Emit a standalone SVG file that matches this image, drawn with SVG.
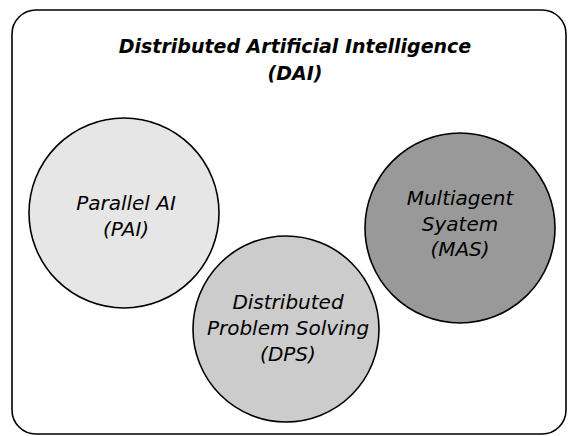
<svg xmlns="http://www.w3.org/2000/svg" width="571" height="436" viewBox="0 0 571 436">
<style>
.frame{fill:#fff;stroke:#000;stroke-width:1.6}
.c{stroke:#000;stroke-width:1.6}
.t{font-family:"Comic Sans MS","DejaVu Sans",sans-serif;font-style:italic;font-size:20px;fill:#000;text-anchor:middle}
.title{font-weight:bold;font-size:19px}
</style>
<rect width="571" height="436" fill="#fff"/>
<g id="dai">
<rect class="frame" x="12" y="10" width="554" height="424" rx="24" ry="24"/>
<text class="t title" x="295" y="53">Distributed Artificial Intelligence</text>
<text class="t title" x="295" y="80">(DAI)</text>
</g>
<g id="pai">
<circle class="c" cx="124" cy="213" r="95" fill="#e6e6e6"/>
<text class="t" x="126" y="210">Parallel AI</text>
<text class="t" x="126" y="236">(PAI)</text>
</g>
<g id="mas">
<circle class="c" cx="460" cy="228" r="95" fill="#999999"/>
<text class="t" x="460" y="205">Multiagent</text>
<text class="t" x="460" y="231">Syatem</text>
<text class="t" x="460" y="256">(MAS)</text>
</g>
<g id="dps">
<circle class="c" cx="286" cy="329" r="93" fill="#cccccc"/>
<text class="t" x="288" y="309">Distributed</text>
<text class="t" x="288" y="335">Problem Solving</text>
<text class="t" x="288" y="361">(DPS)</text>
</g>
<g id="connectors"></g>
</svg>
